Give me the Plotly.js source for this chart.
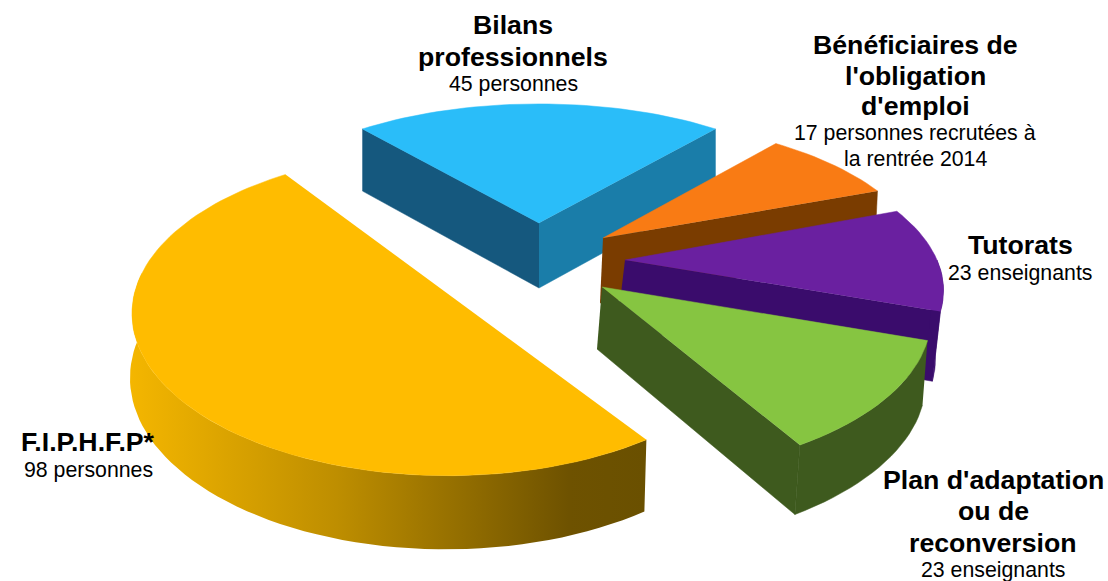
<!DOCTYPE html>
<html>
<head>
<meta charset="utf-8">
<script src="https://cdn.plot.ly/plotly-3.0.1.min.js"></script>
<style>html,body{margin:0;padding:0;background:#fff}#chart{width:1108px;height:581px}</style>
</head>
<body>
<div id="chart"></div>
<script>
// Répartition des dispositifs d'accompagnement (effectifs par dispositif)
const categories = ["Bilans professionnels", "Bénéficiaires de l'obligation d'emploi", "Tutorats", "Plan d'adaptation ou de reconversion", "F.I.P.H.F.P*"];
const effectifs = [45, 17, 23, 23, 98];

// Placement of each exploded wedge on the page, in the same order as the categories
const apexX = [539, 603, 625, 602, 448];
const apexY = [223, 238, 260, 287, 273];
const radiusX = [300, 315, 312, 322, 306];
const radiusY = [131, 141, 146, 152, 152];
const perspective = [0.1, 0.2, 0.2, 0.2, 0.25];
const wallDepth = [65, 65, 67, 62, 62];
const wallShift = [0, -3, -8, -5, -2];
// The large wedge is closed straight across its two outer corners
const drawsTip = [true, true, true, true, false];
const faceColors = ["#2ABDF9", "#F97B14", "#6A20A0", "#86C541", "#FFBC00"];
const startWallColors = ["#15587E", "#7A3C00", "#3A0C6C", "#3E5A1E", "#7A5A00"];
const endWallColors = ["#1A7DA9", "#7A3C00", "#3A0C6C", "#3E5A1E", "#7A5A00"];
const arcWallColors = ["#1A7DA9", "#7A3C00", "#3A0C6C", "#3E5A1E", "#B98A00"];
const yellowWallScale = [[0, "#F4B600"], [0.4, "#BE8E00"], [0.85, "#6E5200"], [1, "#6A5000"]];

// Text blocks: one entry per line
const labelLines = ["Bilans", "professionnels", "45 personnes",
  "Bénéficiaires de", "l'obligation", "d'emploi", "17 personnes recrutées à", "la rentrée 2014",
  "Tutorats", "23 enseignants",
  "Plan d'adaptation", "ou de", "reconversion", "23 enseignants",
  "F.I.P.H.F.P*", "98 personnes"];
const labelBold = [1, 1, 0, 1, 1, 1, 0, 0, 1, 0, 1, 1, 1, 0, 1, 0];
const labelX = [513, 513, 513, 915, 915, 915, 915, 915, 1020, 1020, 993, 993, 993, 993, 88, 88];
const labelY = [25, 57, 84, 45, 76, 106, 133, 159, 245, 273, 480, 511, 543, 570, 442, 470];

const total = effectifs.reduce((a, b) => a + b, 0);
const rad = d => d * Math.PI / 180;

// Projects a point of the disc (angle clockwise from the far side) on to the page
function project(i, deg, drop) {
  const nx = Math.sin(rad(deg));
  const ny = -Math.cos(rad(deg));
  const s = 1 / (1 - perspective[i] * ny);
  const pt = { x: apexX[i] + radiusX[i] * nx * s, y: apexY[i] + radiusY[i] * ny * s };
  if (drop) {
    pt.x += wallShift[i];
    pt.y += wallDepth[i] * Math.pow(s, 0.6);
  }
  return pt;
}

function apexPoint(i, drop) {
  return drop ? { x: apexX[i] + wallShift[i], y: apexY[i] + wallDepth[i] } : { x: apexX[i], y: apexY[i] };
}

function polygon(points, color, gradient) {
  const tr = {
    type: "scatter", mode: "lines", fill: "toself", hoverinfo: "skip", showlegend: false,
    x: points.map(p => p.x), y: points.map(p => p.y),
    line: { width: 0.5, color: color }, fillcolor: color
  };
  if (gradient) {
    tr.fillgradient = { type: "horizontal", colorscale: gradient };
    tr.line = { width: 0 };
  }
  return tr;
}

function arcPoints(i, a, b, drop) {
  const n = Math.max(2, Math.ceil(Math.abs(b - a) / 2));
  const pts = [];
  for (let k = 0; k <= n; k++) pts.push(project(i, a + (b - a) * k / n, drop));
  return pts;
}

const traces = [];
let angle = -effectifs[0] / total * 180;
effectifs.forEach((v, i) => {
  const a0 = angle;
  const a1 = angle + v / total * 360;
  angle = a1;
  // Side walls of the wedge that face the viewer
  if (Math.sin(rad(a0)) < 0) {
    traces.push(polygon([apexPoint(i, false), project(i, a0, false), project(i, a0, true), apexPoint(i, true)], startWallColors[i]));
  }
  if (Math.sin(rad(a1)) > 0) {
    traces.push(polygon([apexPoint(i, false), project(i, a1, false), project(i, a1, true), apexPoint(i, true)], endWallColors[i]));
  }
  const lo = Math.max(a0, 90);
  const hi = Math.min(a1, 270);
  if (hi > lo) {
    const top = arcPoints(i, lo, hi, false);
    const bottom = arcPoints(i, hi, lo, true);
    traces.push(polygon(top.concat(bottom), arcWallColors[i], i === 4 ? yellowWallScale : null));
  }
  // Top face
  const rim = arcPoints(i, a0, a1, false);
  traces.push(polygon(drawsTip[i] ? [apexPoint(i, false)].concat(rim) : rim, faceColors[i]));
});

const annotations = labelLines.map((t, i) => ({
  x: labelX[i], y: labelY[i], xref: "x", yref: "y", showarrow: false,
  xanchor: "center", yanchor: "middle", text: labelBold[i] ? "<b>" + t + "</b>" : t,
  font: { family: "Liberation Sans, Arial, sans-serif", size: labelBold[i] ? 26.7 : 21.3, color: "#000" }
}));

Plotly.newPlot("chart", traces, {
  width: 1108, height: 581,
  margin: { l: 0, r: 0, t: 0, b: 0 },
  paper_bgcolor: "#fff", plot_bgcolor: "#fff",
  xaxis: { range: [0, 1108], visible: false, fixedrange: true },
  yaxis: { range: [581, 0], visible: false, fixedrange: true },
  annotations: annotations, showlegend: false
}, { displayModeBar: false, staticPlot: true });
</script>
</body>
</html>
